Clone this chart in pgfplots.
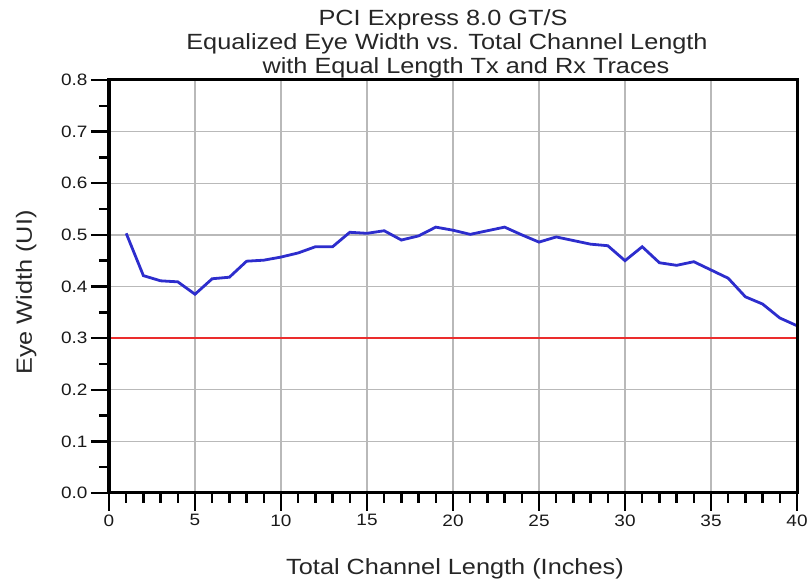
\documentclass[border=0pt]{standalone}
\usepackage{fontspec}
\setmainfont{Liberation Sans}[FakeStretch=1.15]
\usepackage{pgfplots}
\pgfplotsset{compat=1.18}
\definecolor{curveblue}{RGB}{45,45,205}
\definecolor{limitred}{RGB}{235,45,45}
\begin{document}
\begin{tikzpicture}
\begin{axis}[
  width=688pt, height=413pt, scale only axis,
  xmin=0, xmax=40, ymin=0, ymax=0.8,
  xtick={0,5,10,15,20,25,30,35,40},
  ytick={0,0.1,0.2,0.3,0.4,0.5,0.6,0.7,0.8},
  minor x tick num=4, minor y tick num=1,
  tick pos=left, tick align=outside,
  major tick length=18pt, minor tick length=10pt,
  every tick/.style={black, line width=2.4pt},
  grid=major, major grid style={gray!55, line width=1.4pt},
  axis line style={black, line width=3pt},
  ticklabel style={font=\fontsize{16.5}{18}\selectfont, text=black!90},
  yticklabel style={/pgf/number format/.cd, fixed, fixed zerofill, precision=1, assume math mode=true},
  xticklabel style={/pgf/number format/assume math mode=true},
  xlabel={Total Channel Length (Inches)},
  ylabel={Eye Width (UI)},
  xlabel style={font=\fontsize{22}{24}\selectfont, text=black!85, at={(axis description cs:0.5,0)}, anchor=base, yshift=-82pt, xshift=2pt},
  ylabel style={font=\fontsize{22}{24}\selectfont, text=black!85, at={(axis description cs:0,0.5)}, anchor=base, yshift=77pt, xshift=-6pt},
  clip=false,
]
\addplot[limitred, line width=2.6pt] coordinates {(0,0.3) (40,0.3)};
\addplot[curveblue, line width=2.8pt] coordinates {
(1,0.503) (2,0.421) (3,0.411) (4,0.409) (5,0.385) (6,0.415) (7,0.418) (8,0.449)
(9,0.451) (10,0.457) (11,0.465) (12,0.477) (13,0.477) (14,0.505) (15,0.503)
(16,0.508) (17,0.490) (18,0.498) (19,0.515) (20,0.509) (21,0.501) (22,0.508)
(23,0.515) (24,0.500) (25,0.486) (26,0.496) (27,0.489) (28,0.482) (29,0.479)
(30,0.450) (31,0.477) (32,0.446) (33,0.441) (34,0.448) (35,0.432) (36,0.416)
(37,0.380) (38,0.366) (39,0.339) (40,0.324)};
\coordinate (sw) at (rel axis cs:0,0);
\coordinate (ne) at (rel axis cs:1,1);
\node[anchor=base, font=\fontsize{22}{24}\selectfont, text=black!85, xshift=-10pt, yshift=54pt] at (rel axis cs:0.5,1) {PCI Express 8.0 GT/S};
\node[anchor=base, font=\fontsize{22}{24}\selectfont, text=black!85, xshift=-6pt, yshift=30pt] at (rel axis cs:0.5,1) {Equalized Eye Width vs. Total Channel Length};
\node[anchor=base, font=\fontsize{22}{24}\selectfont, text=black!85, xshift=13pt, yshift=6pt] at (rel axis cs:0.5,1) {with Equal Length Tx and Rx Traces};
\end{axis}
\draw[black, line width=3pt] (sw) rectangle (ne);
\pgfresetboundingbox
\path[use as bounding box] ([shift={(-109pt,-90pt)}]sw) rectangle ([shift={(12pt,80pt)}]ne);
\end{tikzpicture}
\end{document}
